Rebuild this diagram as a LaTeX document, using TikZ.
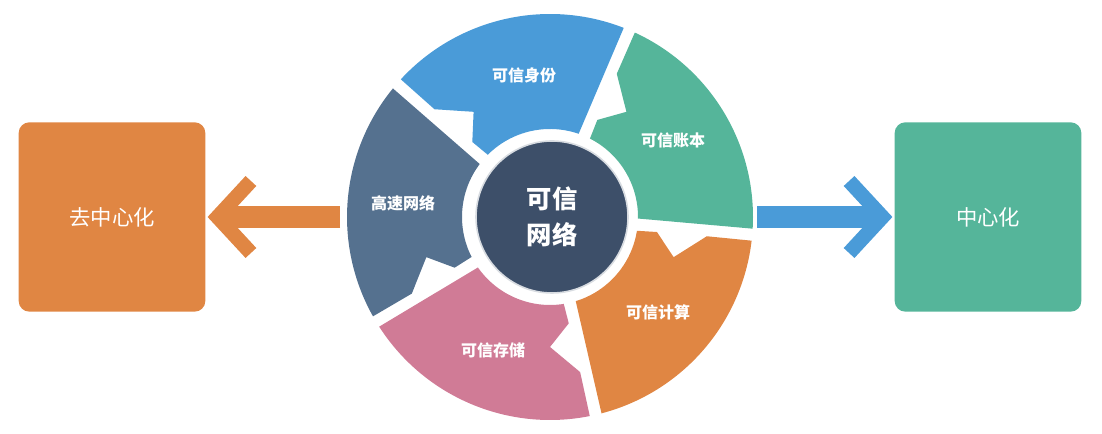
\documentclass[tikz,border=0pt]{standalone}
\usepackage{fontspec}
\newfontfamily\cjk{Noto Sans CJK SC}
\definecolor{cblue}{HTML}{4A9BD8}
\definecolor{cgreen}{HTML}{55B59A}
\definecolor{corange}{HTML}{E08643}
\definecolor{cpink}{HTML}{D07B96}
\definecolor{cgray}{HTML}{55718F}
\definecolor{ccenter}{HTML}{3D4F69}
\tikzset{
  seglabel/.style={text=white,font=\cjk\bfseries\fontsize{12}{14}\selectfont},
  boxnode/.style={rounded corners=8pt,minimum width=140pt,minimum height=142pt,text=white,font=\cjk\fontsize{16}{19}\selectfont},
}
\newcommand{\seg}[3]{%
  \fill[#3,shift={(550,217)}] (#1-1.7:203) arc[start angle=#1-1.7,end angle=#2+1.7,radius=203]
    -- (#2+4:88) arc[start angle=#2+4,end angle=#1-4,radius=88]
    -- (#1-3:108) -- (#1-13:130) -- (#1-2:158) -- cycle;}
\begin{document}
\begin{tikzpicture}[x=0.75pt,y=0.75pt]
\useasboundingbox (0,0) rectangle (1102,434);
\seg{139}{67}{cblue}
\seg{67}{-5}{cgreen}
\seg{-5}{-77}{corange}
\seg{-77}{-149}{cpink}
\seg{211}{139}{cgray}
\node[circle,fill=ccenter,draw=white!80!ccenter,line width=1.2pt,minimum size=114pt] (center) at (552,217) {};
\node[text=white,font=\cjk\bfseries\fontsize{19}{27}\selectfont,align=center] (ctext) at (552,217) {可信\\网络};
\node[seglabel] (l1) at (524,359) {可信身份};
\node[seglabel] (l2) at (673,294) {可信账本};
\node[seglabel] (l3) at (658,122) {可信计算};
\node[seglabel] (l4) at (493,84) {可信存储};
\node[seglabel] (l5) at (403,231) {高速网络};
\node[boxnode,fill=corange] (left) at (112,217) {去中心化};
\node[boxnode,fill=cgreen] (right) at (988,217) {中心化};
\coordinate (la) at (340,217);
\coordinate (ra) at (757,217);
\draw[corange,line width=16.5pt] (la) -- ([xshift=12pt]left.east);
\draw[corange,line width=11pt,line join=miter] ([xshift=34pt,yshift=27pt]left.east) -- ([xshift=9pt]left.east) -- ([xshift=34pt,yshift=-27pt]left.east);
\draw[cblue,line width=16.5pt] (ra) -- ([xshift=-12pt]right.west);
\draw[cblue,line width=11pt,line join=miter] ([xshift=-34pt,yshift=27pt]right.west) -- ([xshift=-9pt]right.west) -- ([xshift=-34pt,yshift=-27pt]right.west);
\end{tikzpicture}
\end{document}
